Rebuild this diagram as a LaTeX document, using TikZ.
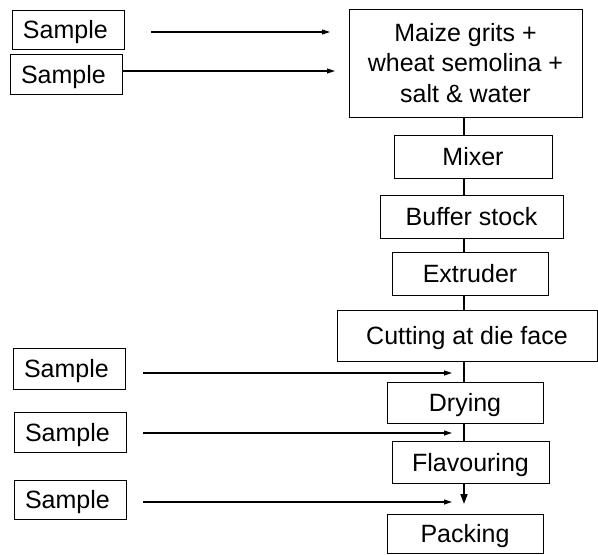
\documentclass[tikz,border=0pt]{standalone}
\usepackage{fontspec}
\setmainfont{Liberation Sans}
\usetikzlibrary{arrows.meta}
\begin{document}
\begin{tikzpicture}[x=1pt,y=1pt,
  box/.style={draw, line width=0.9pt, inner sep=0pt, align=center,
    font=\fontsize{25}{30.5}\selectfont},
  oneline/.style={text height=18pt, text depth=0pt},
  samplebox/.style={draw, line width=0.9pt, inner xsep=11pt, inner ysep=0pt,
    text width=90pt, align=left, minimum width=112pt,
    text height=18pt, text depth=0pt,
    font=\fontsize{25}{30.5}\selectfont},
  flow/.style={line width=1.8pt},
  feed/.style={line width=1.1pt, -{Triangle[length=8pt,width=5pt]}},
  down/.style={line width=1.8pt, -{Triangle[length=10pt,width=7pt]}}]
\useasboundingbox (0,0) rectangle (598,-555);

% process chain
\node[box, minimum width=233pt, minimum height=108pt] (maize) at (465.5,-63)
  {Maize grits +\\wheat semolina +\\salt \& water};
\node[box, oneline, minimum width=158pt, minimum height=43pt] (mixer) at (473,-156.5) {Mixer};
\node[box, oneline, minimum width=183pt, minimum height=43pt] (buffer) at (471.5,-216.5) {Buffer stock};
\node[box, oneline, minimum width=156pt, minimum height=43pt] (extruder) at (470,-273.5) {Extruder};
\node[box, oneline, minimum width=260pt, minimum height=51pt] (cutting) at (467,-335.5) {Cutting at die face};
\node[box, oneline, minimum width=156pt, minimum height=41pt] (drying) at (465,-402.5) {Drying};
\node[box, oneline, minimum width=157pt, minimum height=42pt] (flavour) at (470.5,-462) {Flavouring};
\node[box, oneline, minimum width=156pt, minimum height=39pt] (packing) at (465,-533.5) {Packing};

% sampling points
\node[samplebox, minimum height=39pt] (s1) at (68,-29.5) {Sample};
\node[samplebox, minimum height=40pt] (s2) at (66,-74) {Sample};
\node[samplebox, minimum height=41pt] (s3) at (69,-368.5) {Sample};
\node[samplebox, minimum height=40pt] (s4) at (70,-432) {Sample};
\node[samplebox, minimum height=39pt] (s5) at (70,-499.5) {Sample};

% main flow line and arrow tips
\coordinate (vx) at (464,0);
\coordinate (t1) at (330,-32);
\coordinate (t2) at (335,-71);
\coordinate (t3) at (452,-373);
\coordinate (t4) at (452,-433);
\coordinate (t5) at (452,-502);
\coordinate (t6) at (464,-504);

\draw[flow] (maize.south -| vx) -- (mixer.north -| vx);
\draw[flow] (mixer.south -| vx) -- (buffer.north -| vx);
\draw[flow] (buffer.south -| vx) -- (extruder.north -| vx);
\draw[flow] (extruder.south -| vx) -- (cutting.north -| vx);
\draw[flow] (cutting.south -| vx) -- (drying.north -| vx);
\draw[flow] (drying.south -| vx) -- (flavour.north -| vx);
\draw[down] (flavour.south -| vx) -- (t6);

% sample feeds
\draw[feed] ([xshift=27pt]s1.east |- t1) -- (t1);
\draw[feed] (s2.east |- t2) -- (t2);
\draw[feed] ([xshift=18pt]s3.east |- t3) -- (t3);
\draw[feed] ([xshift=17pt]s4.east |- t4) -- (t4);
\draw[feed] ([xshift=17pt]s5.east |- t5) -- (t5);
\end{tikzpicture}
\end{document}
